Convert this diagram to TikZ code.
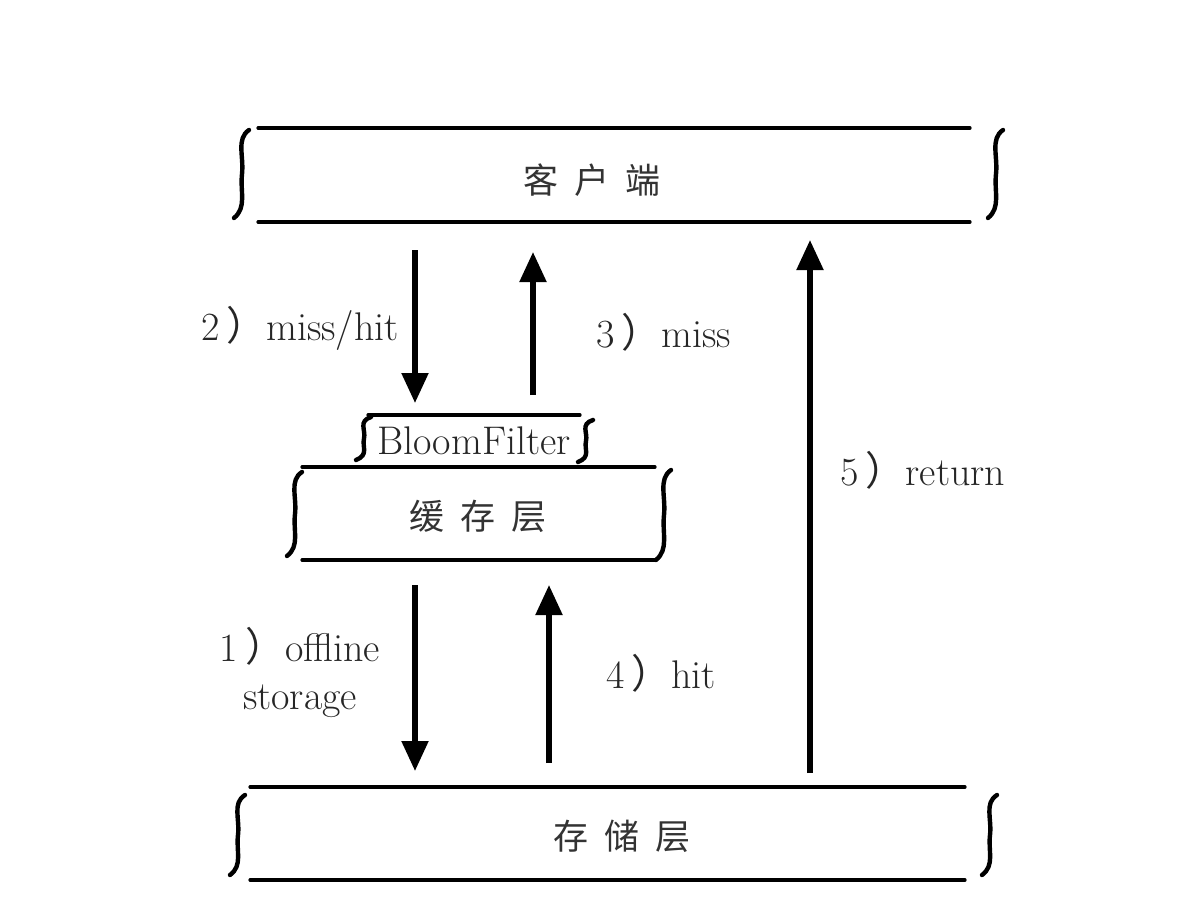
\documentclass[tikz,border=0pt]{standalone}
\usepackage{fontspec}
\newfontfamily\cjk{Noto Sans CJK SC}
\usetikzlibrary{arrows.meta}

\tikzset{
  edge/.style={line width=1.6pt, line cap=round},
  brace/.style={line width=2.2pt, line cap=round},
  flow/.style={line width=2.6pt, -{Triangle[length=15pt,width=13pt]}},
  layer/.style={font=\cjk\fontsize{17.5}{20}\selectfont, text=black!80},
  lbl/.style={font=\fontsize{20}{24}\selectfont, align=center, text=black!85},
}

% x, top y, bottom y
\newcommand\squiggle[3]{%
  \draw[brace] (#1+7,#2) .. controls (#1-6,{#2+(#3-#2)*0.1}) and (#1+2,{#2+(#3-#2)*0.3}) .. (#1,{(#2+#3)/2})
    .. controls (#1-2,{#3-(#3-#2)*0.3}) and (#1+5,{#3-(#3-#2)*0.12}) .. (#1-8,#3);}
\newcommand\paren{{\cjk ）}}

\begin{document}
\begin{tikzpicture}[x=0.5pt,y=-0.5pt]

    \useasboundingbox (0,0) rectangle (1194,916);

    % client
    \draw[edge] (258,128) -- (970,128);
    \draw[edge] (258,222) -- (970,222);
    \squiggle{242}{130}{218}
    \squiggle{996}{130}{218}
    \node[layer] (client) at (592,180) {客\hspace{8pt}户\hspace{8pt}端};

    % bloom filter
    \draw[edge] (368,415) -- (580,415);
    \squiggle{364}{417}{460}
    \squiggle{586}{420}{462}
    \node[lbl] (bloom) at (474,441) {BloomFilter};

    % cache
    \draw[edge] (302,467) -- (655,467);
    \draw[edge] (302,560) -- (655,560);
    \squiggle{295}{472}{556}
    \squiggle{664}{470}{560}
    \node[layer] (cache) at (478,516) {缓\hspace{8pt}存\hspace{8pt}层};

    % storage
    \draw[edge] (250,787) -- (965,787);
    \draw[edge] (250,880) -- (965,880);
    \squiggle{238}{795}{875}
    \squiggle{990}{795}{875}
    \node[layer] (store) at (622,836) {存\hspace{8pt}储\hspace{8pt}层};

    \coordinate (m2a) at (415,250);
    \coordinate (m2b) at (415,403);
    \coordinate (m3a) at (533,395);
    \coordinate (m3b) at (533,252);
    \coordinate (m1a) at (415,585);
    \coordinate (m1b) at (415,771);
    \coordinate (m4a) at (549,763);
    \coordinate (m4b) at (549,585);
    \coordinate (m5a) at (810,773);
    \coordinate (m5b) at (810,240);

    \draw[flow] (m2a) -- (m2b);
    \draw[flow] (m3a) -- (m3b);
    \draw[flow] (m1a) -- (m1b);
    \draw[flow] (m4a) -- (m4b);
    \draw[flow] (m5a) -- (m5b);

    \node[lbl, anchor=east] (l2) at (406,328) {2\,\paren miss/hit};
    \node[lbl] (l3) at (664,332) {3\,\paren miss};
    \node[lbl] (l1) at (300,672) {1\,\paren offline\\storage};
    \node[lbl] (l4) at (661,673) {4\,\paren hit};
    \node[lbl] (l5) at (923,470) {5\,\paren return};

\end{tikzpicture}
\end{document}
